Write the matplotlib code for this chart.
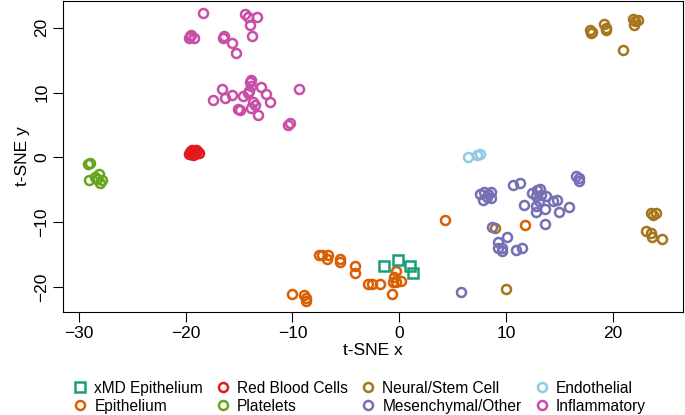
import matplotlib
matplotlib.use("Agg")
import matplotlib.pyplot as plt
from matplotlib.lines import Line2D

plt.rcParams['font.family'] = ['Liberation Sans', 'DejaVu Sans']

# t-SNE coordinates, one pair of lists per cell type
xmd_x = [-1.4, -0.1, 1.0, 1.3]
xmd_y = [-16.8, -15.9, -16.7, -17.9]

epi_x = [-7.5, -7.2, -6.7, -6.8, -5.5, -5.5, -4.1, -4.1, -10.0, -8.9, -8.7, -8.7,
         -2.9, -2.5, -1.8, -0.7, -0.5, -0.3, -0.3, 0.2, -0.6, 4.3, 11.8]
epi_y = [-15.0, -15.0, -15.0, -15.6, -15.6, -16.1, -16.7, -17.8, -21.0, -21.2, -21.7, -22.1,
         -19.6, -19.6, -19.6, -21.0, -18.4, -17.6, -19.2, -19.1, -19.2, -9.7, -10.5]

rbc_x = [-19.7, -19.5, -19.2, -19.0, -18.8, -19.3, -19.6, -19.1, -18.9, -19.4]
rbc_y = [0.6, 1.0, 0.8, 1.1, 0.7, 0.4, 0.9, 0.5, 1.0, 1.2]

plt_x = [-29.2, -29.0, -29.1, -28.5, -28.1, -27.8, -28.0, -28.3]
plt_y = [-1.0, -0.9, -3.5, -3.0, -2.6, -3.5, -3.9, -3.4]

neu_x = [17.9, 18.0, 18.1, 19.2, 19.4, 19.4, 21.9, 22.1, 22.4, 22.0, 21.0,
         23.6, 23.8, 24.1, 23.1, 23.6, 23.7, 24.6, 9.0, 10.0]
neu_y = [19.7, 19.2, 19.4, 20.6, 19.6, 20.0, 21.4, 21.1, 21.2, 20.5, 16.6,
         -8.6, -8.9, -8.6, -11.3, -11.7, -12.3, -12.6, -10.9, -20.3]

mes_x = [5.8, 7.6, 8.0, 8.2, 7.9, 8.6, 8.6, 8.3, 10.7, 11.3, 8.7, 10.1, 9.3, 9.3, 9.6, 9.6,
         11.0, 11.5, 11.7, 12.5, 12.9, 13.2, 12.8, 12.8, 12.8, 13.1, 13.7, 13.8, 14.4, 14.8,
         15.0, 15.9, 13.7, 16.6, 16.9, 16.9, 13.3]
mes_y = [-20.7, -5.7, -5.3, -6.1, -6.6, -5.4, -6.3, -5.7, -4.3, -3.9, -10.7, -12.3, -13.1, -14.0,
         -14.5, -14.0, -14.3, -14.0, -7.4, -5.5, -5.0, -4.9, -6.0, -7.5, -8.4, -6.8, -8.0, -6.0,
         -6.8, -6.5, -8.4, -7.6, -10.3, -2.8, -3.2, -3.7, -5.8]

endo_x = [6.5, 7.3, 7.6]
endo_y = [0.0, 0.4, 0.5]

inf_x = [-18.4, -14.4, -14.2, -13.3, -14.0, -13.8, -19.6, -19.5, -19.2, -19.7, -16.5, -16.4,
         -15.7, -15.3, -17.4, -16.6, -16.3, -15.7, -15.1, -14.9, -14.6, -14.2, -14.0, -13.9,
         -13.9, -13.9, -13.5, -13.2, -12.9, -12.5, -12.1, -10.4, -10.2, -9.4, -13.7, -14.1]
inf_y = [22.3, 22.2, 21.6, 21.7, 20.4, 18.7, 18.7, 18.9, 18.5, 18.4, 18.4, 18.7,
         17.7, 16.1, 8.9, 10.6, 9.2, 9.6, 7.5, 7.3, 9.5, 9.9, 11.7, 11.9,
         11.0, 7.7, 8.1, 6.6, 10.8, 9.8, 8.6, 5.0, 5.3, 10.5, 8.5, 10.3]

labels = ['xMD Epithelium', 'Epithelium', 'Red Blood Cells', 'Platelets',
          'Neural/Stem Cell', 'Mesenchymal/Other', 'Endothelial', 'Inflammatory']
colors = ['#1b9e77', '#d95f02', '#e31a1c', '#66a61e',
          '#a6761d', '#7570b3', '#8ecbe8', '#c84fa8']
markers = ['s', 'o', 'o', 'o', 'o', 'o', 'o', 'o']
xs = [xmd_x, epi_x, rbc_x, plt_x, neu_x, mes_x, endo_x, inf_x]
ys = [xmd_y, epi_y, rbc_y, plt_y, neu_y, mes_y, endo_y, inf_y]

fig = plt.figure(figsize=(6.85, 4.15), dpi=100)
ax = fig.add_axes([0.092, 0.249, 0.905, 0.748])

# squares last so they sit on top
order = [1, 2, 3, 4, 5, 6, 7, 0]
for i in order:
    ax.plot(xs[i], ys[i], linestyle='none', marker=markers[i], markersize=6.5,
            markerfacecolor='none', markeredgecolor=colors[i], markeredgewidth=1.8)

ax.set_xlim(-31.5, 26.6)
ax.set_ylim(-23.8, 24.1)
ax.set_xticks([-30, -20, -10, 0, 10, 20])
ax.set_yticks([-20, -10, 0, 10, 20])
ax.set_xticklabels(['\u221230', '\u221220', '\u221210', '0', '10', '20'])
ax.set_yticklabels(['\u221220', '\u221210', '0', '10', '20'], rotation=90, va='center')
ax.tick_params(labelsize=12.5, length=7, width=0.8, pad=3)
for s in ax.spines.values():
    s.set_linewidth(0.8)
ax.set_xlabel('t-SNE x', fontsize=12.5, labelpad=2)
ax.set_ylabel('t-SNE y', fontsize=12.5, labelpad=3)

handles = [Line2D([], [], linestyle='none', marker=markers[i], markersize=6.5,
                  markerfacecolor='none', markeredgecolor=colors[i], markeredgewidth=1.8)
           for i in range(len(labels))]
fig.legend(handles, labels, ncol=4, loc='lower left', bbox_to_anchor=(0.099, -0.012),
           frameon=False, fontsize=11.2, handlelength=0.8, handletextpad=0.5,
           columnspacing=0.9, labelspacing=0.2, borderaxespad=0.0)

fig.savefig('out.png', dpi=100)
